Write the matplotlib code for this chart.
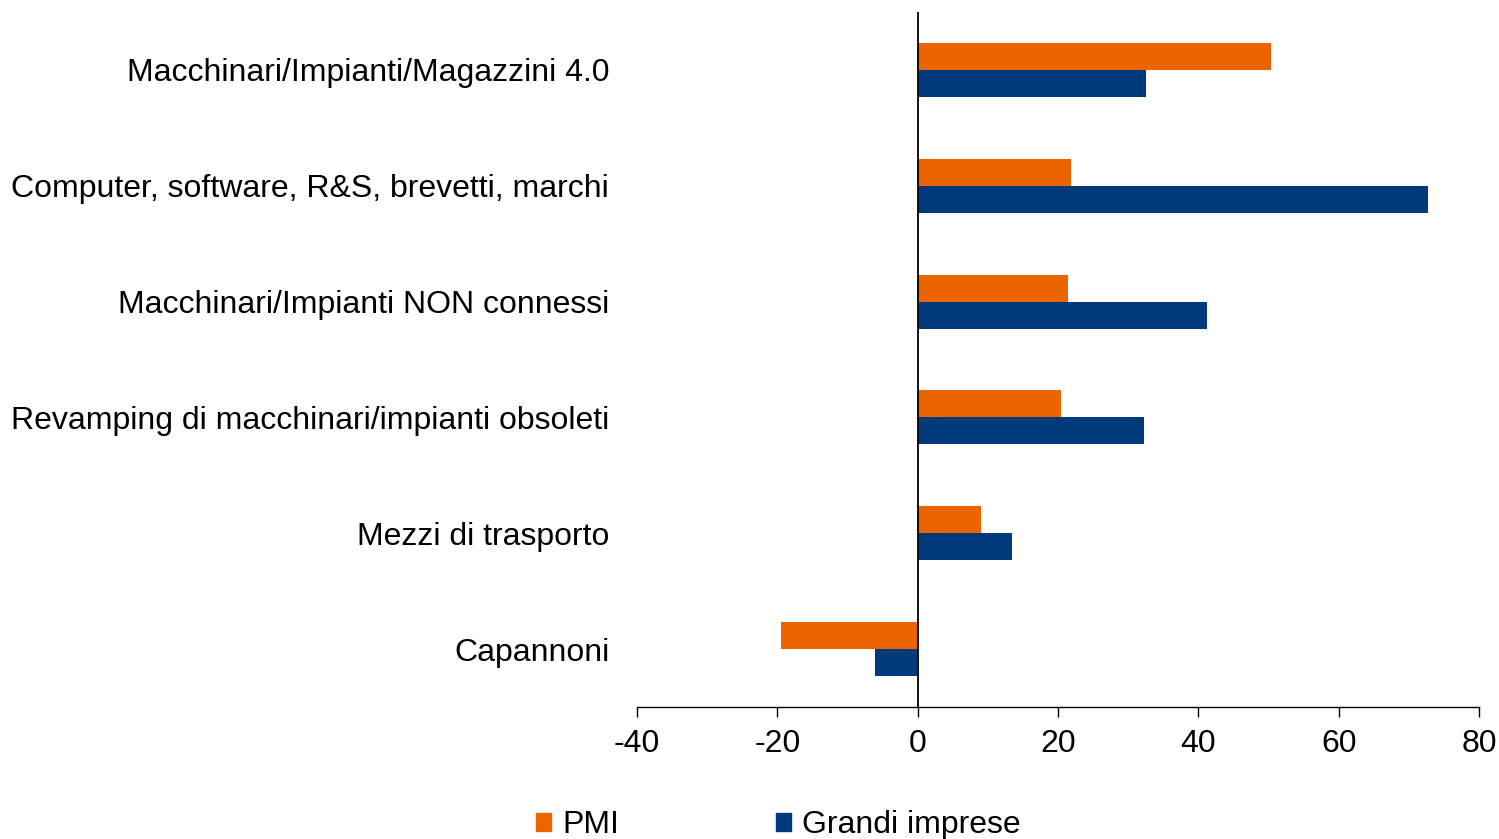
import matplotlib
matplotlib.use("Agg")
import matplotlib.pyplot as plt
from matplotlib.patches import Patch

plt.rcParams["font.family"] = ["Liberation Sans", "DejaVu Sans"]

categories = [
    "Macchinari/Impianti/Magazzini 4.0",
    "Computer, software, R&S, brevetti, marchi",
    "Macchinari/Impianti NON connessi",
    "Revamping di macchinari/impianti obsoleti",
    "Mezzi di trasporto",
    "Capannoni",
]
pmi = [50.3, 21.9, 21.4, 20.4, 9.0, -19.5]
grandi = [32.6, 72.7, 41.3, 32.3, 13.4, -6.1]
xticks = [-40, -20, 0, 20, 40, 60, 80]

ORANGE = "#EC6400"
NAVY = "#003A7A"
FS = 23

fig = plt.figure(figsize=(14.99, 8.39), dpi=100)
ax = fig.add_axes([637 / 1499, 1 - 707 / 839, 842 / 1499, 695 / 839])

h = 0.233
pos = list(range(len(categories)))
ax.barh([p - h / 2 for p in pos], pmi, height=h, color=ORANGE)
ax.barh([p + h / 2 for p in pos], grandi, height=h, color=NAVY)

ax.set_xlim(-40, 80)
ax.set_ylim(len(categories) - 0.5, -0.5)
ax.set_xticks(xticks)
ax.set_xticklabels([str(t) for t in xticks], fontsize=FS)
ax.set_yticks(pos)
ax.set_yticklabels(categories, fontsize=FS)
ax.tick_params(axis="y", length=0, pad=20)
ax.tick_params(axis="x", direction="out", length=7, width=1, pad=9)

for s in ["top", "right", "left"]:
    ax.spines[s].set_visible(False)
ax.spines["bottom"].set_linewidth(1)
ax.axvline(0, color="black", linewidth=1.3)

# legend along the bottom edge (partly cut off, like the original)
handles = [Patch(color=ORANGE, label="PMI"), Patch(color=NAVY, label="Grandi imprese")]
fig.legend(handles=handles, loc="upper left", bbox_to_anchor=(536 / 1499, 1 - 810 / 839),
           ncol=2, frameon=False, fontsize=FS, handlelength=0.48, handleheight=0.48,
           handletextpad=0.34, columnspacing=4.9, borderpad=0, borderaxespad=0)

fig.savefig("out.png", dpi=100)
